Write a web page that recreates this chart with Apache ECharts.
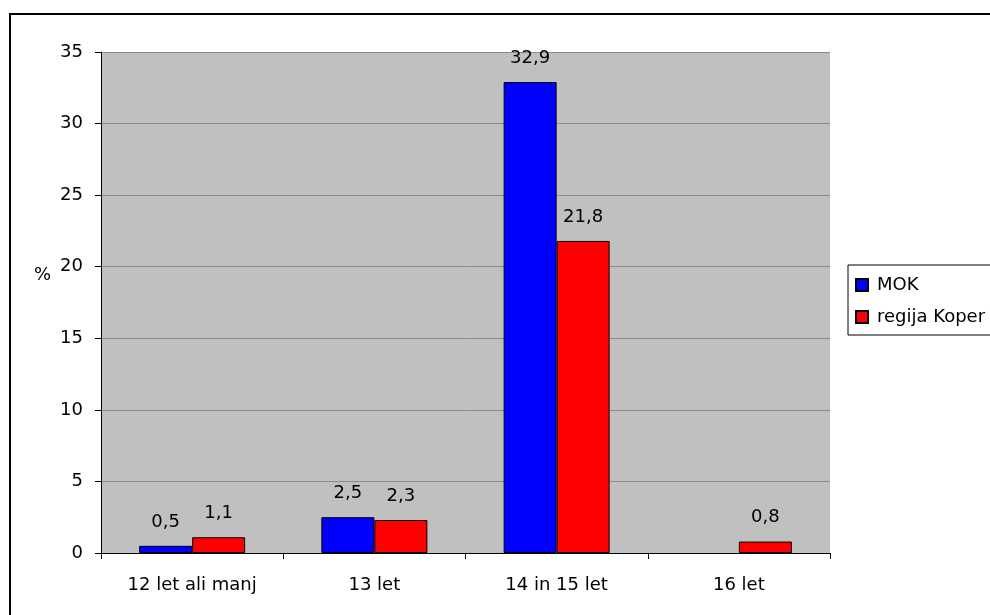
<!DOCTYPE html>
<html>
<head>
<meta charset="utf-8">
<script src="https://cdn.jsdelivr.net/npm/echarts@6/dist/echarts.min.js"></script>
<style>
    html, body { margin: 0; padding: 0; background: #fff; }
    #chart { width: 990px; height: 615px; }
</style>
</head>
<body>
<div id="chart"></div>
<script>
const categories = ['12 let ali manj', '13 let', '14 in 15 let', '16 let'];
const mokValues = [0.5, 2.5, 32.9, null];
const koperValues = [1.1, 2.3, 21.8, 0.8];
const seriesNames = ['MOK', 'regija Koper'];

const font = 'DejaVu Sans, sans-serif';
const chart = echarts.init(document.getElementById('chart'));

const labelStyle = {
    show: true,
    position: 'top',
    distance: 15,
    fontFamily: font,
    fontSize: 18,
    color: '#000',
    formatter: p => String(p.value).replace('.', ',')
};

const option = {
    backgroundColor: '#fff',
    animation: false,
    textStyle: { fontFamily: font },
    grid: {
        left: 101,
        top: 52,
        right: 160,
        bottom: 62,
        show: true,
        backgroundColor: '#C0C0C0',
        borderWidth: 0
    },
    graphic: [
        {
            type: 'rect',
            shape: { x: 10, y: 14, width: 1000, height: 700 },
            style: { fill: 'none', stroke: '#000', lineWidth: 2 },
            z: 100
        },
        {
            type: 'text',
            left: 34,
            top: 266,
            style: { text: '%', font: '18px ' + font, fill: '#000' }
        }
    ],
    legend: {
        orient: 'vertical',
        left: 848,
        top: 265,
        padding: [11, 40, 9, 7],
        itemGap: 14,
        itemWidth: 12,
        itemHeight: 12,
        borderColor: '#000',
        borderWidth: 1,
        textStyle: { fontFamily: font, fontSize: 18, color: '#000', padding: [0, 0, 0, 4] },
        data: [
            { name: seriesNames[0], icon: 'rect' },
            { name: seriesNames[1], icon: 'rect' }
        ]
    },
    xAxis: {
        type: 'category',
        data: categories,
        axisLine: { lineStyle: { color: '#000', width: 1 } },
        axisTick: { show: true, length: 6, lineStyle: { color: '#000' } },
        axisLabel: { margin: 23, fontFamily: font, fontSize: 18, color: '#000', interval: 0 }
    },
    yAxis: {
        type: 'value',
        min: 0,
        max: 35,
        interval: 5,
        axisLine: { show: true, lineStyle: { color: '#000', width: 1 } },
        axisTick: { show: true, length: 6, lineStyle: { color: '#000' } },
        axisLabel: { margin: 18, fontFamily: font, fontSize: 18, color: '#000' },
        splitLine: { show: true, lineStyle: { color: '#8a8a8a', width: 1 } }
    },
    series: [
        {
            name: seriesNames[0],
            type: 'bar',
            data: mokValues,
            barWidth: 53,
            barGap: '0%',
            itemStyle: { color: '#0000FF', borderColor: '#000', borderWidth: 1 },
            label: labelStyle
        },
        {
            name: seriesNames[1],
            type: 'bar',
            data: koperValues,
            barWidth: 53,
            barGap: '0%',
            itemStyle: { color: '#FF0000', borderColor: '#000', borderWidth: 1 },
            label: labelStyle
        }
    ]
};

chart.setOption(option);
</script>
</body>
</html>
